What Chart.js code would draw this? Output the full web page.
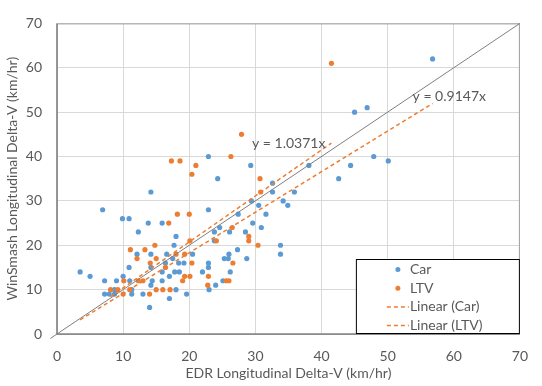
<!DOCTYPE html>
<html>
<head>
<meta charset="utf-8">
<title>EDR vs WinSmash Longitudinal Delta-V</title>
<script src="https://cdn.jsdelivr.net/npm/chart.js@4.4.1/dist/chart.umd.min.js"></script>
<style>
    body { margin: 0; background: #fff; }
</style>
</head>
<body>
<canvas id="delta-v-chart" width="542" height="386"></canvas>
<script>
const carX = [56.8, 45, 46.9, 47.9, 50.1, 38.1, 44.4, 42.6, 35.9, 34.2, 34.9, 33.8, 33.8, 32.6, 32.6, 29.3, 29.4, 30.5, 27.4, 31.6,
    29.6, 30.9, 28.5, 27.3, 28.7, 22.9, 24.3, 14.2, 22.9, 6.9, 9.9, 10.9, 13.8, 15.9, 24.6, 23.8, 26.1, 12.3, 18, 23.8,
    17.7, 14.2, 12.1, 16.6, 20.5, 26, 17.5, 25.3, 25.9, 16.4, 18.4, 19.2, 22.9, 10.9, 14.2, 22.9, 3.5, 15.9, 17.8, 18.5,
    22, 26.2, 5, 10, 17, 7.2, 9, 11, 14.4, 15.9, 25.1, 14.2, 24, 8.7, 11.3, 18, 23, 7.2, 7.9, 8.7,
    11.3, 13, 19.6, 17, 14];
const carY = [62, 50, 51, 40, 39, 38, 38, 35, 32, 30, 29, 20, 18, 34, 32, 38, 30, 29, 27, 27,
    25, 24, 23, 19, 17, 40, 35, 32, 28, 28, 26, 26, 25, 25, 24, 23, 23, 23, 22, 21,
    20, 18, 18, 18, 18, 18, 17, 17, 17, 16, 16, 16, 16, 15, 15, 15, 14, 14, 14, 14,
    14, 14, 13, 13, 13, 12, 12, 12, 12, 12, 12, 11, 11, 10, 10, 10, 10, 9, 9, 9,
    9, 9, 9, 8, 6];

const ltvX = [41.5, 17.3, 18.6, 20.4, 21, 26.3, 27.9, 30.7, 30.8, 29, 29, 30.4, 26.5, 24.1, 26.6, 22.9, 22.8, 25.6, 26, 18.2,
    20, 16.9, 20.1, 14.8, 11.1, 13.3, 12.1, 15, 18, 19.3, 14.1, 20.4, 16.4, 10.1, 12.3, 13, 19, 19.3, 20.1, 8.1,
    9.2, 11, 10, 14, 15, 16, 17.1];
const ltvY = [61, 39, 39, 36, 38, 40, 45, 35, 32, 22, 21, 20, 24, 21, 16, 13, 11, 12, 12, 27,
    27, 25, 21, 20, 19, 19, 17, 17, 18, 18, 16, 16, 15, 12, 12, 12, 12, 13, 13, 10,
    10, 10, 9, 9, 10, 10, 10];

// slopes of the trendlines (forced through zero)
const carSlope = 0.9147;
const ltvSlope = 1.0371;

const axisTicks = [0, 10, 20, 30, 40, 50, 60, 70];

const blue = '#5b9bd5';
const orange = '#ed7d31';
const textGray = '#595959';
const fontFamily = 'Lato, "Liberation Sans", sans-serif';

function toPoints(xs, ys) {
    return xs.map((x, i) => ({ x: x, y: ys[i] }));
}

function trendPoints(xs, slope) {
    const lo = Math.min(...xs);
    const hi = Math.max(...xs);
    return [{ x: lo, y: lo * slope }, { x: hi, y: hi * slope }];
}

const axisMin = axisTicks[0];
const axisMax = axisTicks[axisTicks.length - 1];

// frame round the plot area
const plotFrame = {
    id: 'plotFrame',
    beforeDatasetsDraw(chart) {
        const { ctx, chartArea } = chart;
        ctx.save();
        ctx.strokeStyle = '#a0a0a0';
        ctx.lineWidth = 1;
        ctx.strokeRect(chartArea.left, chartArea.top + 0.5, chartArea.width - 0.5, chartArea.height);
        ctx.strokeStyle = '#858585';
        ctx.lineWidth = 1.5;
        ctx.beginPath();
        ctx.moveTo(chartArea.left, chartArea.top);
        ctx.lineTo(chartArea.left, chartArea.bottom);
        ctx.lineTo(chartArea.right, chartArea.bottom);
        ctx.stroke();
        ctx.restore();
    }
};

// equation labels next to the trendline ends
const trendLabels = {
    id: 'trendLabels',
    afterDatasetsDraw(chart) {
        const { ctx } = chart;
        const xs = chart.scales.x;
        const ys = chart.scales.y;
        ctx.save();
        ctx.font = '14px ' + fontFamily;
        ctx.fillStyle = textGray;
        ctx.textBaseline = 'middle';

        const carEnd = trendPoints(carX, carSlope)[1];
        ctx.textAlign = 'left';
        ctx.fillText('y = ' + carSlope.toFixed(4) + 'x',
            xs.getPixelForValue(carEnd.x) - 20, ys.getPixelForValue(carEnd.y) - 7);

        const ltvEnd = trendPoints(ltvX, ltvSlope)[1];
        ctx.textAlign = 'right';
        ctx.fillText('y = ' + ltvSlope.toFixed(4) + 'x',
            xs.getPixelForValue(ltvEnd.x) - 6, ys.getPixelForValue(ltvEnd.y));
        ctx.restore();
    }
};

// boxed legend in the lower right corner of the plot
const boxLegend = {
    id: 'boxLegend',
    afterDraw(chart) {
        const { ctx, chartArea } = chart;
        const entries = chart.data.datasets.filter(d => d.inLegend);
        const w = 164;
        const h = 75;
        const left = chartArea.right - w;
        const top = chartArea.bottom - h;
        ctx.save();
        ctx.fillStyle = '#fff';
        ctx.fillRect(left, top, w, h);
        ctx.strokeStyle = '#000';
        ctx.lineWidth = 1;
        ctx.strokeRect(left + 0.5, top + 0.5, w - 1, h - 1);

        ctx.font = '14px ' + fontFamily;
        ctx.textBaseline = 'middle';
        ctx.textAlign = 'left';
        entries.forEach((d, i) => {
            const cy = top + 10.5 + i * 18.7;
            if (d.showLine) {
                ctx.strokeStyle = d.borderColor;
                ctx.lineWidth = 1.5;
                ctx.setLineDash([4, 3]);
                ctx.beginPath();
                ctx.moveTo(left + 31, cy);
                ctx.lineTo(left + 53, cy);
                ctx.stroke();
                ctx.setLineDash([]);
            } else {
                ctx.fillStyle = d.backgroundColor;
                ctx.beginPath();
                ctx.arc(left + 42, cy, 2.5, 0, Math.PI * 2);
                ctx.fill();
            }
            ctx.fillStyle = textGray;
            ctx.fillText(d.label, left + 54, cy);
        });
        ctx.restore();
    }
};

const deltaVContext = document.getElementById('delta-v-chart');

new Chart(deltaVContext, {
    type: 'scatter',
    data: {
        datasets: [{
            label: 'Car',
            data: toPoints(carX, carY),
            backgroundColor: blue,
            borderWidth: 0,
            pointRadius: 2.6,
            inLegend: true,
            order: 2
        }, {
            label: 'LTV',
            data: toPoints(ltvX, ltvY),
            backgroundColor: orange,
            borderWidth: 0,
            pointRadius: 2.6,
            inLegend: true,
            order: 1
        }, {
            label: 'Linear (Car)',
            data: trendPoints(carX, carSlope),
            showLine: true,
            borderColor: orange,
            borderWidth: 1.5,
            borderDash: [4, 3],
            pointRadius: 0,
            inLegend: true,
            order: 0
        }, {
            label: 'Linear (LTV)',
            data: trendPoints(ltvX, ltvSlope),
            showLine: true,
            borderColor: orange,
            borderWidth: 1.5,
            borderDash: [4, 3],
            pointRadius: 0,
            inLegend: true,
            order: 0
        }, {
            label: 'y = x',
            data: [{ x: axisMin - 1, y: axisMin - 1 }, { x: axisMax, y: axisMax }],
            showLine: true,
            borderColor: '#7f7f7f',
            borderWidth: 1,
            pointRadius: 0,
            clip: false,
            inLegend: false,
            order: 0
        }]
    },
    options: {
        responsive: false,
        animation: false,
        events: [],
        layout: {
            padding: { top: 13, right: 9, left: 0, bottom: 0 }
        },
        plugins: {
            legend: { display: false },
            tooltip: { enabled: false }
        },
        scales: {
            x: {
                type: 'linear',
                min: axisMin,
                max: axisMax,
                afterBuildTicks: scale => { scale.ticks = axisTicks.map(v => ({ value: v })); },
                afterFit: scale => { scale.height = 52; },
                grid: { color: '#d9d9d9', drawTicks: false },
                border: { display: false },
                ticks: { color: textGray, padding: 14, font: { family: fontFamily, size: 14 } },
                title: {
                    display: true,
                    text: 'EDR Longitudinal Delta-V (km/hr)',
                    color: textGray,
                    font: { family: fontFamily, size: 14 }
                }
            },
            y: {
                type: 'linear',
                min: axisMin,
                max: axisMax,
                afterBuildTicks: scale => { scale.ticks = axisTicks.map(v => ({ value: v })); },
                afterFit: scale => { scale.width = 57; },
                grid: { color: '#d9d9d9', drawTicks: false },
                border: { display: false },
                ticks: { color: textGray, padding: 15, font: { family: fontFamily, size: 14 } },
                title: {
                    display: true,
                    text: 'WinSmash Longitudinal Delta-V (km/hr)',
                    color: textGray,
                    font: { family: fontFamily, size: 14 }
                }
            }
        }
    },
    plugins: [plotFrame, trendLabels, boxLegend]
});
</script>
</body>
</html>
